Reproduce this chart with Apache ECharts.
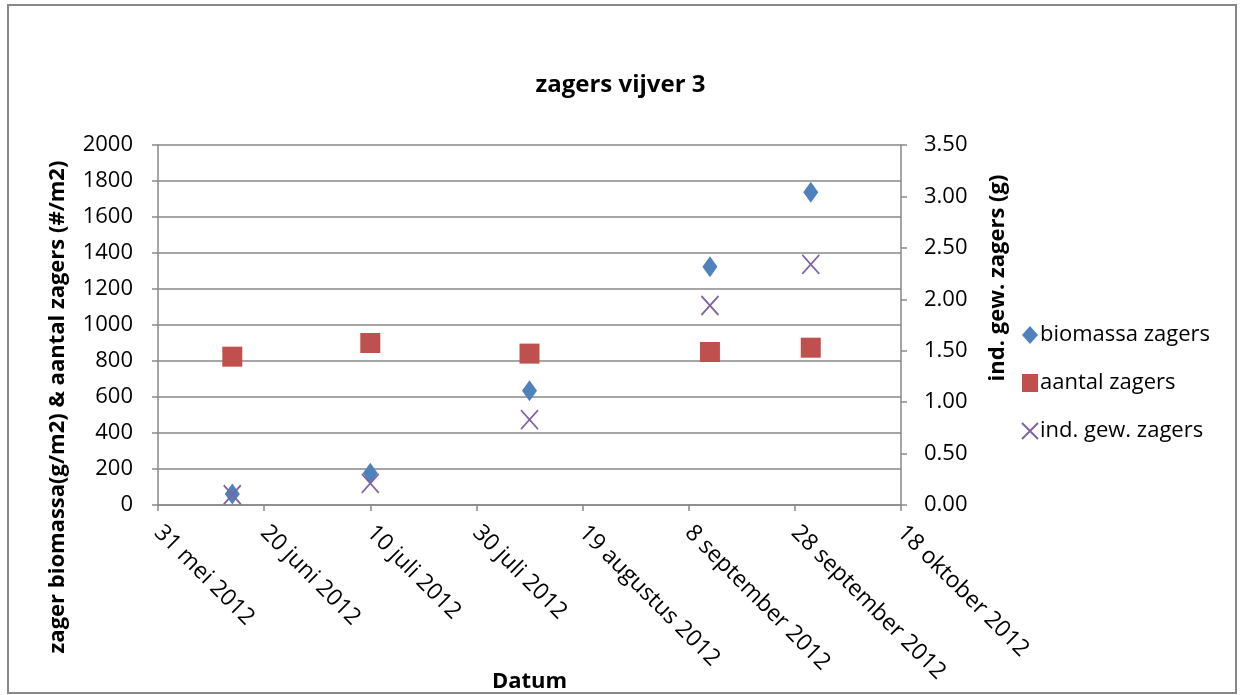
<!DOCTYPE html>
<html>
<head>
<meta charset="utf-8">
<script src="https://cdn.jsdelivr.net/npm/echarts@6/dist/echarts.min.js"></script>
<style>
html,body{margin:0;padding:0;background:#fff;}
#chart{width:1241px;height:695px;}
</style>
</head>
<body>
<div id="chart"></div>
<script>
// ---- data ----
const startDate = '2012-05-31';
const dates = ['2012-06-14', '2012-07-10', '2012-08-09', '2012-09-12', '2012-10-01'];
const biomassa = [61, 176, 635, 1324, 1737];
const aantal = [824, 900, 841, 850, 874];
const indGew = [0.10, 0.21, 0.83, 1.94, 2.34];
const xTickLabels = ['31 mei 2012', '20 juni 2012', '10 juli 2012', '30 juli 2012',
  '19 augustus 2012', '8 september 2012', '28 september 2012', '18 oktober 2012'];
const leftTicks = ['0', '200', '400', '600', '800', '1000', '1200', '1400', '1600', '1800', '2000'];
const rightTicks = ['0.00', '0.50', '1.00', '1.50', '2.00', '2.50', '3.00', '3.50'];

const DAY = 86400000;
const t0 = Date.parse(startDate + 'T00:00:00Z');
const dayOf = d => Math.round((Date.parse(d + 'T00:00:00Z') - t0) / DAY);
const pts = vals => dates.map((d, i) => [dayOf(d), vals[i]]);

const FONT = '"Open Sans", "Liberation Sans", sans-serif';
const GRAY = '#898989';

const chart = echarts.init(document.getElementById('chart'));
chart.setOption({
  backgroundColor: '#ffffff',
  animation: false,
  textStyle: { fontFamily: FONT, color: '#000' },
  title: {
    text: 'zagers vijver 3',
    left: 'center', top: 68,
    textStyle: { fontFamily: FONT, fontWeight: 'bold', fontSize: 24, color: '#000' }
  },
  grid: { left: 158, right: 340, top: 145, bottom: 190, containLabel: false, outerBoundsMode: 'none' },
  legend: {
    orient: 'vertical',
    left: 1016, top: 319,
    itemWidth: 16, itemHeight: 18, itemGap: 26,
    textStyle: { fontFamily: FONT, fontSize: 22, color: '#000', padding: [0, 0, 0, -3] },
    data: [
      { name: 'biomassa zagers', icon: 'diamond' },
      { name: 'aantal zagers', icon: 'rect' },
      { name: 'ind. gew. zagers' }
    ]
  },
  xAxis: {
    type: 'value',
    min: 0, max: 140, interval: 20,
    name: 'Datum', nameLocation: 'middle', nameGap: 166, nameMoveOverlap: false,
    nameTextStyle: { fontFamily: FONT, fontWeight: 'bold', fontSize: 22, color: '#000' },
    axisLine: { show: true, lineStyle: { color: GRAY, width: 1.5 } },
    axisTick: { show: true, length: 6, lineStyle: { color: GRAY, width: 1.5 } },
    splitLine: { show: false },
    axisLabel: {
      rotate: -45, margin: 24,
      fontFamily: FONT, fontSize: 23, color: '#000',
      formatter: v => xTickLabels[Math.round(v / 20)] || ''
    }
  },
  yAxis: [
    {
      type: 'value', min: 0, max: 2000, interval: 200, position: 'left',
      axisLine: { show: true, lineStyle: { color: GRAY, width: 1.5 } },
      axisTick: { show: true, length: 6, lineStyle: { color: GRAY, width: 1.5 } },
      splitLine: { show: true, lineStyle: { color: GRAY, width: 1.5 } },
      axisLabel: {
        margin: 25, fontFamily: FONT, fontSize: 22, color: '#000',
        formatter: v => leftTicks[Math.round(v / 200)]
      }
    },
    {
      type: 'value', min: 0, max: 3.5, interval: 0.5, position: 'right',
      axisLine: { show: true, lineStyle: { color: GRAY, width: 1.5 } },
      axisTick: { show: true, length: 6, lineStyle: { color: GRAY, width: 1.5 } },
      splitLine: { show: false },
      axisLabel: {
        margin: 23, fontFamily: FONT, fontSize: 22, color: '#000',
        formatter: v => rightTicks[Math.round(v / 0.5)]
      }
    }
  ],
  graphic: [
    {
      type: 'rect', silent: true, z: -1,
      shape: { x: 8, y: 5, width: 1228, height: 688 },
      style: { fill: 'none', stroke: '#888888', lineWidth: 2 }
    },
    {
      type: 'text', x: 58, y: 407, rotation: Math.PI / 2,
      style: {
        text: 'zager biomassa(g/m2) & aantal zagers (#/m2)',
        font: 'bold 22px ' + FONT, fill: '#000',
        textAlign: 'center', textVerticalAlign: 'middle'
      }
    },
    {
      type: 'text', x: 998, y: 278, rotation: Math.PI / 2,
      style: {
        text: 'ind. gew. zagers (g)',
        font: 'bold 22px ' + FONT, fill: '#000',
        textAlign: 'center', textVerticalAlign: 'middle'
      }
    }
  ],
  series: [
    {
      name: 'aantal zagers', type: 'scatter', yAxisIndex: 0,
      symbol: 'rect', symbolSize: [20, 20],
      itemStyle: { color: '#C0504D', opacity: 1 },
      data: pts(aantal), z: 2
    },
    {
      name: 'biomassa zagers', type: 'scatter', yAxisIndex: 0,
      symbol: 'diamond', symbolSize: [15, 21],
      itemStyle: { color: '#4F81BD', opacity: 1 },
      data: pts(biomassa), z: 3
    },
    {
      name: 'ind. gew. zagers', type: 'scatter', yAxisIndex: 1,
      symbol: 'path://M0,0L10,10M10,0L0,10', symbolSize: [17, 19],
      itemStyle: { color: 'rgba(0,0,0,0)', borderColor: '#8064A2', borderWidth: 1.8, opacity: 1 },
      data: pts(indGew), z: 4
    }
  ]
});
</script>
</body>
</html>
